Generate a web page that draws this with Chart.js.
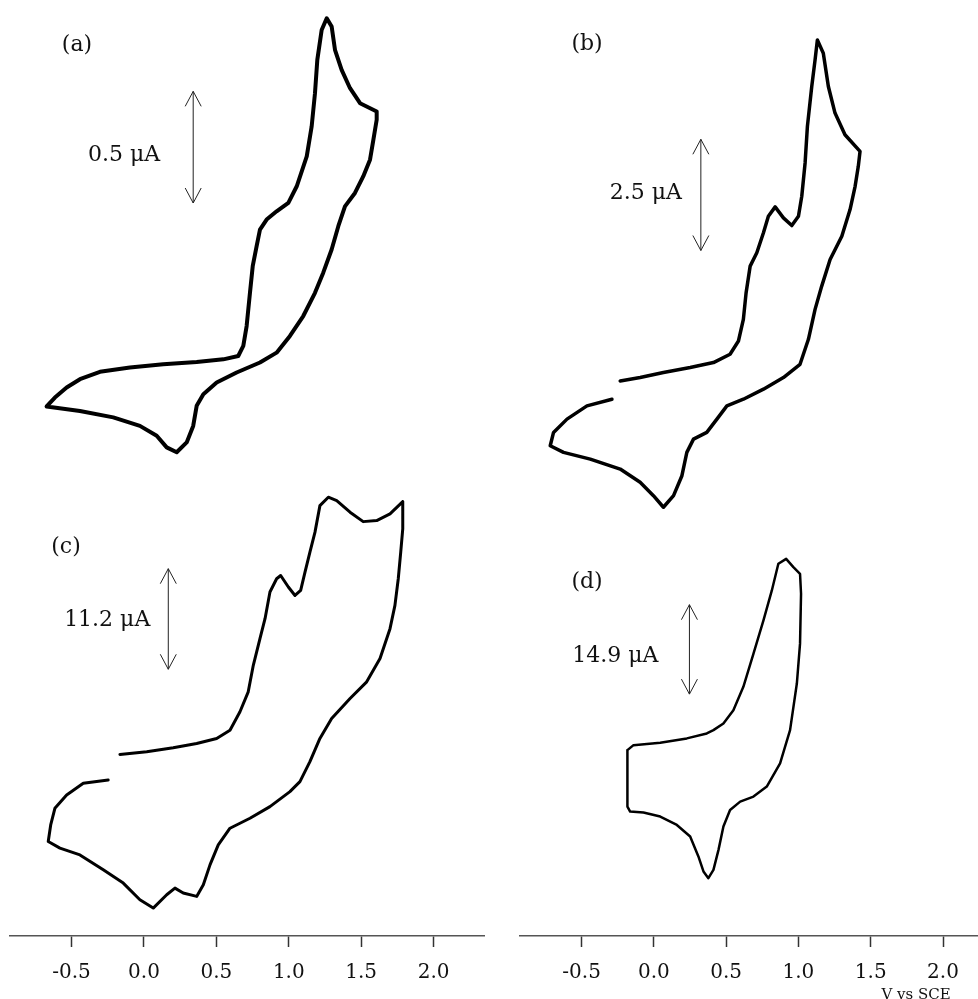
<!DOCTYPE html>
<html>
<head>
<meta charset="utf-8">
<script src="https://cdn.jsdelivr.net/npm/chart.js@4.4.0/dist/chart.umd.min.js"></script>
<style>
  html, body { margin: 0; padding: 0; background: #fff; }
  body { width: 978px; height: 999px; position: relative; overflow: hidden; }
  .col { position: absolute; top: 0; width: 489px; height: 999px; }
</style>
</head>
<body>
<div class="col" style="left:0"><canvas id="left"></canvas></div>
<div class="col" style="left:489px"><canvas id="right"></canvas></div>
<script>
// potential (V vs SCE) and current (uA)
const aV = [-0.672,-0.615,-0.534,-0.442,-0.304,-0.097,0.133,0.364,0.548,0.651,0.686,0.709,0.732,0.751,0.778,0.801,0.847,0.916,0.997,1.055,1.124,1.158,1.181,1.197,1.227,1.262,1.296,1.319,1.365,1.423,1.492,1.607,1.607,1.584,1.561,1.514,1.457,1.388,1.342,1.296,1.238,1.181,1.100,1.008,0.916,0.801,0.640,0.502,0.410,0.364,0.340,0.295,0.226,0.157,0.088,-0.028,-0.212,-0.442,-0.672];
const aI = [-0.720,-0.680,-0.635,-0.598,-0.565,-0.546,-0.531,-0.521,-0.509,-0.494,-0.449,-0.360,-0.211,-0.092,-0.002,0.072,0.117,0.154,0.192,0.266,0.400,0.534,0.683,0.832,0.966,1.018,0.981,0.877,0.787,0.705,0.638,0.601,0.564,0.474,0.385,0.310,0.236,0.176,0.087,-0.017,-0.121,-0.211,-0.315,-0.404,-0.479,-0.523,-0.568,-0.613,-0.665,-0.717,-0.807,-0.881,-0.925,-0.903,-0.851,-0.807,-0.769,-0.740,-0.720];

const bV = [-0.233,-0.095,0.066,0.251,0.412,0.527,0.585,0.619,0.638,0.666,0.712,0.758,0.792,0.839,0.896,0.954,1.000,1.023,1.046,1.062,1.092,1.115,1.131,1.172,1.207,1.253,1.322,1.426,1.414,1.392,1.357,1.300,1.219,1.161,1.115,1.069,1.011,0.896,0.758,0.619,0.505,0.436,0.366,0.274,0.228,0.194,0.136,0.066,-0.003,-0.095,-0.233,-0.440,-0.625,-0.717,-0.694,-0.601,-0.463,-0.290];
const bI = [-2.562,-2.486,-2.374,-2.262,-2.150,-1.963,-1.665,-1.178,-0.579,0.018,0.318,0.767,1.139,1.350,1.103,0.930,1.139,1.588,2.337,3.158,4.055,4.654,5.103,4.804,4.055,3.458,2.972,2.597,2.261,1.812,1.289,0.690,0.168,-0.431,-0.954,-1.627,-2.188,-2.486,-2.748,-2.973,-3.123,-3.421,-3.720,-3.870,-4.168,-4.693,-5.142,-5.402,-5.142,-4.841,-4.543,-4.319,-4.168,-4.020,-3.720,-3.421,-3.123,-2.973];

const cV = [-0.166,0.019,0.202,0.364,0.502,0.594,0.663,0.720,0.755,0.801,0.836,0.870,0.916,0.944,0.997,1.043,1.082,1.112,1.146,1.181,1.215,1.273,1.331,1.423,1.514,1.607,1.699,1.787,1.787,1.773,1.756,1.733,1.699,1.630,1.538,1.423,1.296,1.215,1.146,1.077,1.008,0.870,0.732,0.594,0.513,0.456,0.410,0.364,0.271,0.214,0.157,0.064,-0.028,-0.143,-0.281,-0.442,-0.580,-0.661,-0.644,-0.615,-0.534,-0.419,-0.247];
const cI = [-5.78,-5.48,-5.03,-4.56,-4.00,-3.08,-1.03,1.19,4.14,7.11,9.33,12.30,13.78,14.14,12.86,11.92,12.48,14.52,16.74,18.97,21.92,22.86,22.48,21.19,20.14,20.26,21.00,22.37,19.33,16.74,13.78,10.81,8.22,4.89,2.30,0.44,-1.78,-4.00,-6.59,-8.81,-9.92,-11.59,-12.89,-14.00,-15.86,-18.08,-20.30,-21.59,-21.22,-20.67,-21.41,-22.89,-21.97,-20.11,-18.63,-16.97,-16.22,-15.48,-13.63,-11.78,-10.30,-9.00,-8.63];

const dV = [-0.183,-0.141,0.044,0.228,0.366,0.412,0.481,0.550,0.619,0.689,0.758,0.816,0.861,0.915,0.965,1.011,1.018,1.011,0.989,0.942,0.873,0.781,0.689,0.597,0.527,0.481,0.447,0.412,0.377,0.343,0.308,0.251,0.159,0.044,-0.072,-0.164,-0.183,-0.183];
const dI = [-3.03,-2.20,-1.80,-1.08,-0.25,0.30,1.41,3.62,7.51,13.05,18.59,23.57,28.01,28.84,27.46,26.35,23.02,14.71,8.06,0.30,-5.24,-9.11,-10.77,-11.61,-13.00,-15.76,-19.65,-22.98,-24.36,-23.24,-20.75,-17.42,-15.50,-14.10,-13.43,-13.27,-12.44,-3.03];

const xTicks = [-0.5, 0.0, 0.5, 1.0, 1.5, 2.0];
const panelTags = ['(a)', '(b)', '(c)', '(d)'];
// current scale bars: where they sit (V, uA) and how long they are (uA)
const barV = [0.340, 0.325, 0.168, 0.246];
const barMid = [0.441, 1.619, 9.30, 13.75];
const barSize = [0.5, 2.5, 11.2, 14.9];
const barText = ['0.5 μA', '2.5 μA', '11.2 μA', '14.9 μA'];

const SERIF = '"DejaVu Serif", "Liberation Serif", serif';

function pts(xs, ys) {
    const n = Math.min(xs.length, ys.length);
    const out = [];
    for (let i = 0; i < n; i++) out.push({ x: xs[i], y: ys[i] });
    return out;
}

function trace(label, xs, ys, axis, width) {
    return {
        label: label,
        data: pts(xs, ys),
        yAxisID: axis,
        showLine: true,
        borderColor: '#000',
        borderWidth: width,
        borderJoinStyle: 'round',
        borderCapStyle: 'round',
        pointRadius: 0,
        fill: false,
        tension: 0
    };
}

// scale bars, panel tags and the axis caption
const annotate = {
    id: 'annotate',
    afterDatasetsDraw(chart, args, opts) {
        const ctx = chart.ctx;
        const xs = chart.scales.x;
        ctx.save();
        opts.items.forEach(n => {
            const ys = chart.scales[n.axis];
            const x = xs.getPixelForValue(barV[n.k]);
            const top = ys.getPixelForValue(barMid[n.k] + barSize[n.k] / 2);
            const bot = ys.getPixelForValue(barMid[n.k] - barSize[n.k] / 2);
            ctx.strokeStyle = '#222';
            ctx.lineWidth = 1;
            ctx.beginPath();
            ctx.moveTo(x, top);
            ctx.lineTo(x, bot);
            ctx.moveTo(x - 8, top + 15);
            ctx.lineTo(x, top);
            ctx.lineTo(x + 8, top + 15);
            ctx.moveTo(x - 8, bot - 15);
            ctx.lineTo(x, bot);
            ctx.lineTo(x + 8, bot - 15);
            ctx.stroke();

            ctx.fillStyle = '#111';
            ctx.font = '22px ' + SERIF;
            ctx.textBaseline = 'middle';
            ctx.textAlign = 'right';
            ctx.fillText(barText[n.k], x - n.gap, (top + bot) / 2 + n.dy);
            ctx.textAlign = 'center';
            ctx.fillText(panelTags[n.k], n.tagX, n.tagY);
        });
        if (opts.unit) {
            ctx.fillStyle = '#111';
            ctx.font = '15px ' + SERIF;
            ctx.textAlign = 'center';
            ctx.textBaseline = 'alphabetic';
            ctx.fillText(opts.unit.text, opts.unit.x, opts.unit.y);
        }
        ctx.restore();
    }
};

function xAxis(min, max) {
    return {
        type: 'linear',
        position: 'bottom',
        min: min,
        max: max,
        afterBuildTicks: s => { s.ticks = xTicks.map(v => ({ value: v })); },
        ticks: {
            callback: v => Number(v).toFixed(1),
            font: { family: SERIF, size: 20, lineHeight: 1.0 },
            color: '#111',
            padding: 16,
            maxRotation: 0,
            autoSkip: false
        },
        grid: {
            drawOnChartArea: false,
            drawTicks: true,
            tickLength: 11,
            tickColor: '#333',
            tickWidth: 1.5
        },
        border: { color: '#555', width: 1.5 }
    };
}

function hiddenY(min, max, weight) {
    return { type: 'linear', position: 'left', stack: 'col', stackWeight: weight, min: min, max: max, display: false };
}

// in a left-hand stack the scale declared first ends up at the bottom
new Chart(document.getElementById('left'), {
    type: 'scatter',
    data: {
        datasets: [
            trace('(a)', aV, aI, 'yA', 4),
            trace('(c)', cV, cI, 'yC', 3)
        ]
    },
    options: {
        responsive: true,
        maintainAspectRatio: false,
        animation: false,
        layout: { padding: { left: 10, right: 5, top: 0, bottom: 0 } },
        plugins: {
            legend: { display: false },
            tooltip: { enabled: false },
            annotate: {
                items: [
                    { axis: 'yA', k: 0, gap: 33, dy: 8, tagX: 77, tagY: 45 },
                    { axis: 'yC', k: 2, gap: 18, dy: 1, tagX: 66, tagY: 547 }
                ]
            }
        },
        scales: {
            x: xAxis(-0.925, 2.348),
            yC: hiddenY(-26, 26, 468),
            yA: hiddenY(-1.0, 1.1, 470)
        }
    },
    plugins: [annotate]
});

new Chart(document.getElementById('right'), {
    type: 'scatter',
    data: {
        datasets: [
            trace('(b)', bV, bI, 'yB', 3.5),
            trace('(d)', dV, dI, 'yD', 2.5)
        ]
    },
    options: {
        responsive: true,
        maintainAspectRatio: false,
        animation: false,
        layout: { padding: { left: 31, right: 0, top: 0, bottom: 0 } },
        plugins: {
            legend: { display: false },
            tooltip: { enabled: false },
            annotate: {
                items: [
                    { axis: 'yB', k: 1, gap: 19, dy: -2, tagX: 98, tagY: 44 },
                    { axis: 'yD', k: 3, gap: 31, dy: 7, tagX: 98, tagY: 582 }
                ],
                unit: { text: 'V vs SCE', x: 427, y: 999 }
            }
        },
        scales: {
            x: xAxis(-0.926, 2.242),
            yD: hiddenY(-34, 33, 403),
            yB: hiddenY(-6, 6, 535)
        }
    },
    plugins: [annotate]
});
</script>
</body>
</html>
